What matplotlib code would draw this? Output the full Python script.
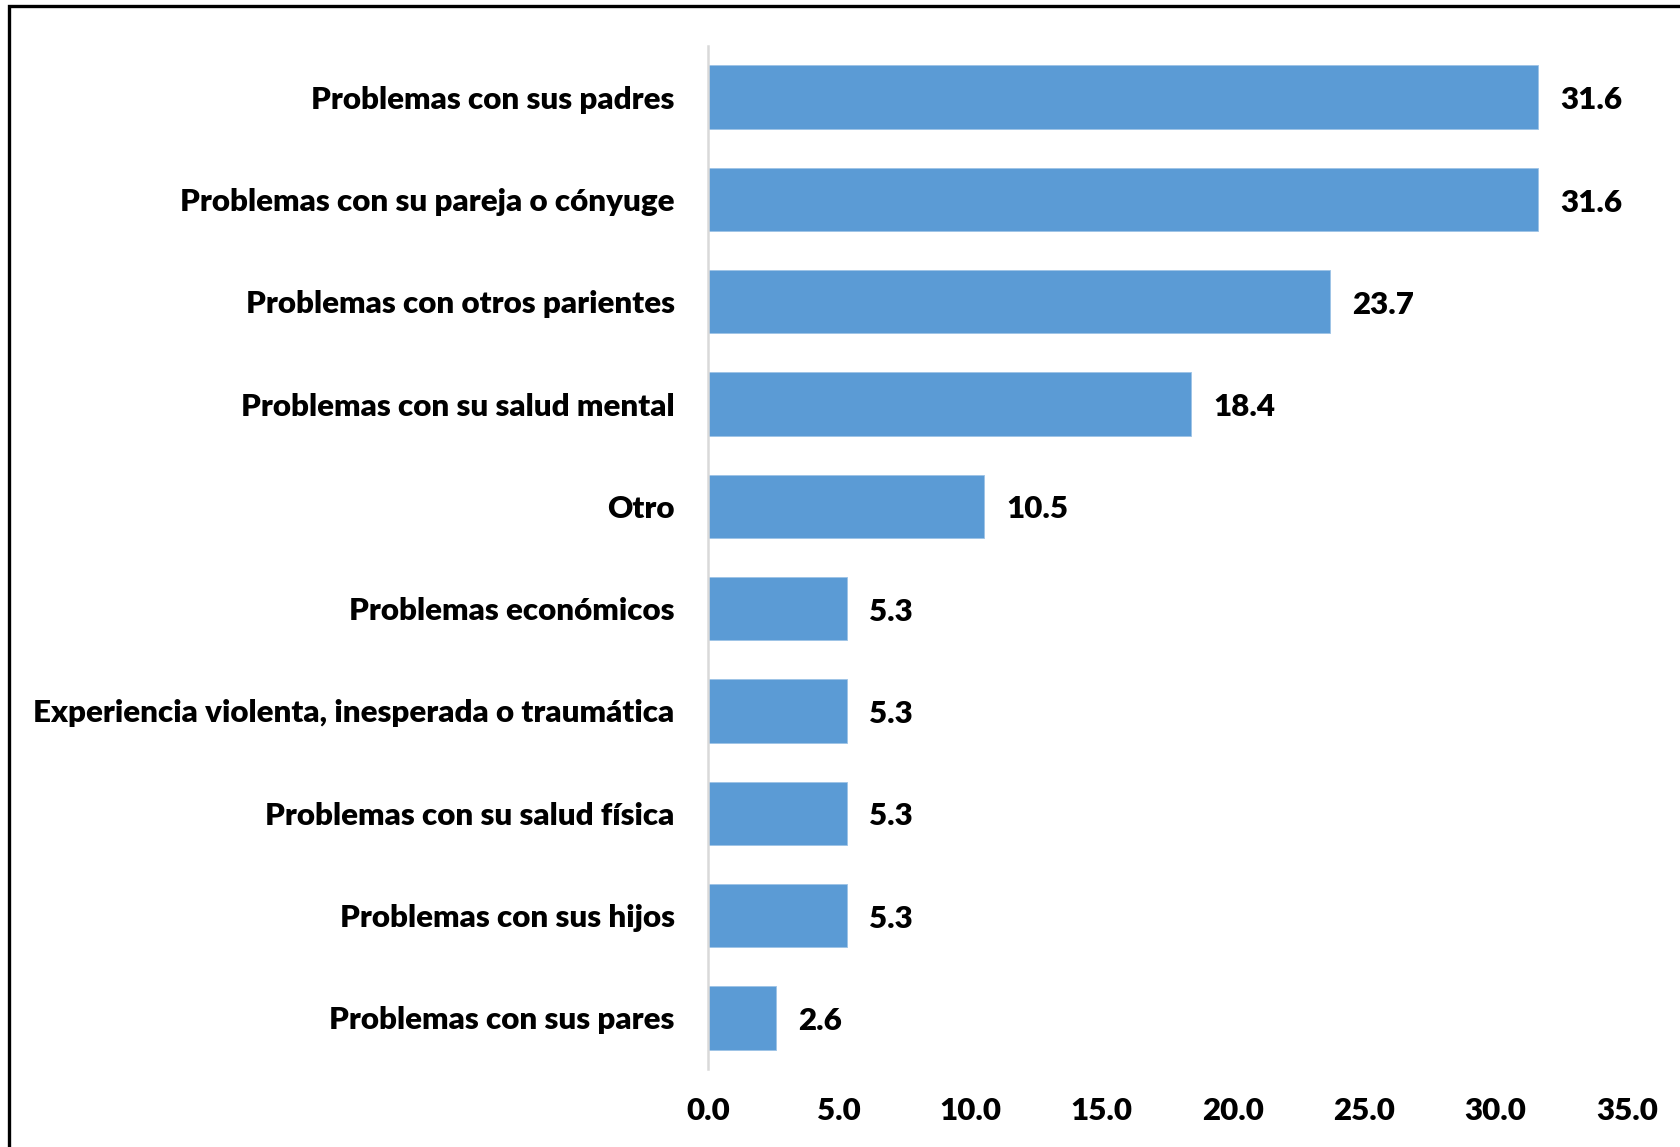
import matplotlib.pyplot as plt
from matplotlib.patches import Rectangle

categories = [
    "Problemas con sus padres",
    "Problemas con su pareja o cónyuge",
    "Problemas con otros parientes",
    "Problemas con su salud mental",
    "Otro",
    "Problemas económicos",
    "Experiencia violenta, inesperada o traumática",
    "Problemas con su salud física",
    "Problemas con sus hijos",
    "Problemas con sus pares",
]
values = [31.6, 31.6, 23.7, 18.4, 10.5, 5.3, 5.3, 5.3, 5.3, 2.6]
x_ticks = [0, 5, 10, 15, 20, 25, 30, 35]

W, H = 1681, 1147
FS = 22.5
plt.rcParams["font.family"] = ["Lato", "DejaVu Sans"]
plt.rcParams["font.weight"] = "heavy"

fig = plt.figure(figsize=(W / 100, H / 100), dpi=100)
ax = fig.add_axes([708 / W, 1 - 1069 / H, (1627 - 708) / W, (1069 - 46) / H])

pos = list(range(len(categories)))
ax.barh(pos, values, height=0.62, color="#5B9BD5", edgecolor="#9DC3E6", linewidth=0.6)
for y, v in zip(pos, values):
    ax.text(v + 0.85, y + 0.03, f"{v:.1f}", va="center", ha="left",
            fontsize=FS, fontweight="heavy", color="black")

ax.set_xlim(0, 35)
ax.set_ylim(len(categories) - 0.5, -0.5)
ax.set_yticks(pos)
ax.set_yticklabels(categories, fontsize=FS, fontweight="heavy")
ax.set_xticks(x_ticks)
ax.set_xticklabels([f"{t:.1f}" for t in x_ticks], fontsize=FS, fontweight="heavy")
ax.tick_params(axis="y", length=0, pad=24)
ax.tick_params(axis="x", length=0, pad=20)
for s in ["top", "right", "bottom"]:
    ax.spines[s].set_visible(False)
ax.spines["left"].set_color("#D9D9D9")
ax.spines["left"].set_linewidth(1.8)

# outer frame (right and bottom edges are cut off in the original)
fig.patches.append(Rectangle((9 / W, -0.05), 1.2, 1 - 6 / H + 0.05,
                             transform=fig.transFigure, fill=False,
                             edgecolor="black", linewidth=2.4))

fig.savefig("out.png", dpi=100)
